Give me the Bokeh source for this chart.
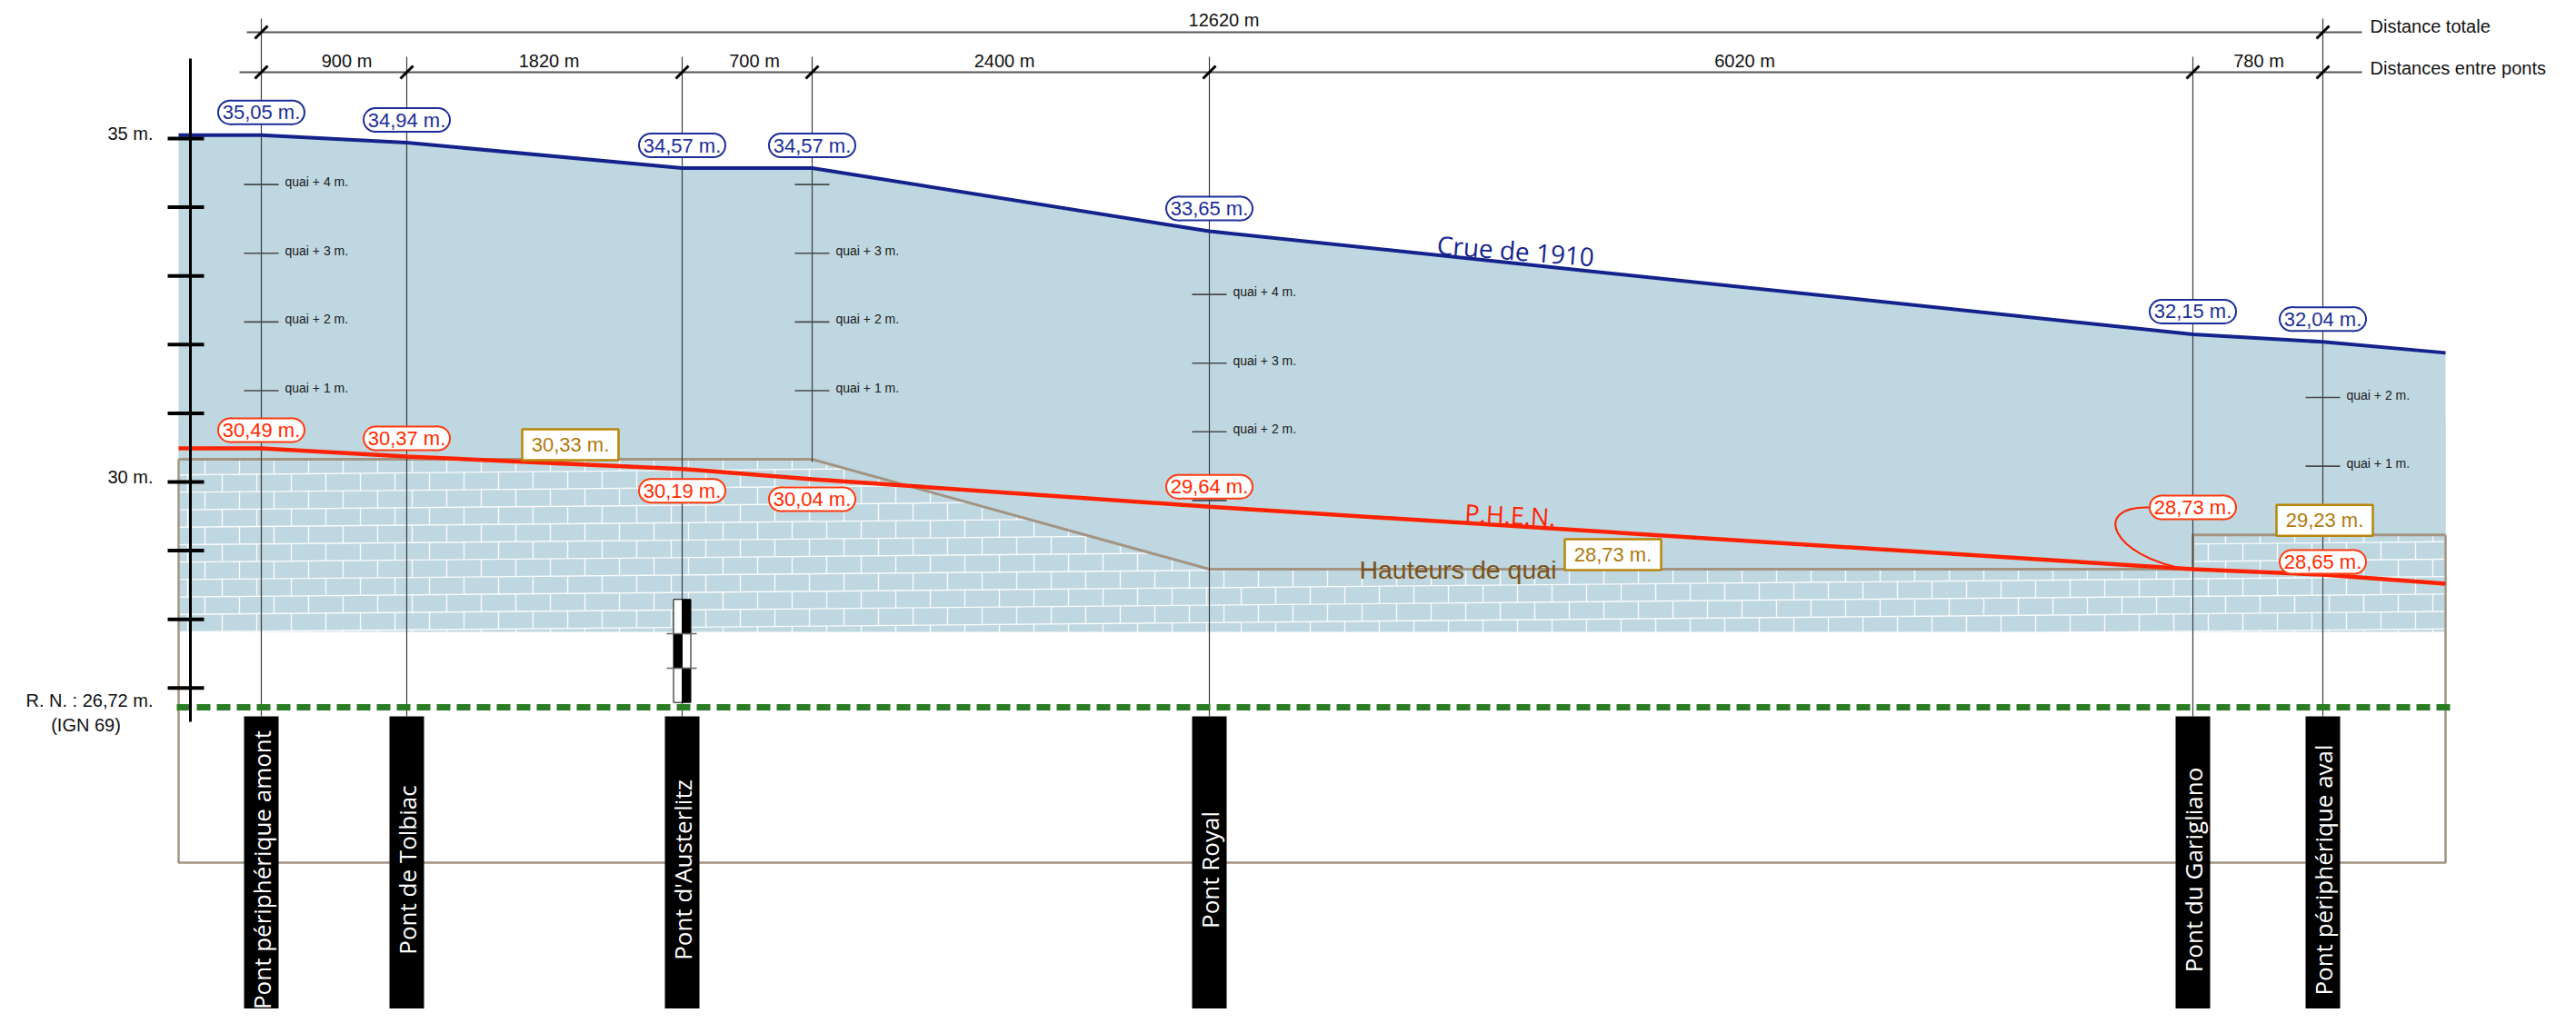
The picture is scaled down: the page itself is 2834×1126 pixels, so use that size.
from math import pi
from bokeh.plotting import figure
from bokeh.models import Range1d
from bokeh.core.properties import value
from bokeh.embed import file_html
from bokeh.resources import INLINE

# ------------------------------------------------------------------ data
bridge_names = ["Pont périphérique amont", "Pont de Tolbiac", "Pont d'Austerlitz", "",
                "Pont Royal", "Pont du Garigliano", "Pont périphérique aval"]
gaps_m = [900, 1820, 700, 2400, 6020, 780]
total_m = 12620
crue_1910 = [35.05, 34.94, 34.57, 34.57, 33.65, 32.15, 32.04]
crue_end = 31.88
phen = [30.49, 30.37, 30.19, 30.04, 29.64, 28.73, 28.65]
phen_end = 28.52
quai_at_point = [30.33, 30.33, 30.33, 30.33, 28.73, 28.73, 29.23]
quai_boxes = [30.33, 28.73, 29.23]
rn_level = 26.72
scale_ticks = [27, 28, 29, 30, 31, 32, 33, 34, 35]
scale_labels = [35, 30]
quai_marks_labelled = [[1, 2, 3, 4], [], [], [1, 2, 3], [2, 3, 4], [], [1, 2]]
quai_marks_plain = [[], [], [], [4], [1], [], []]

# ------------------------------------------------------------------ layout (schematic)
bx = [287, 447, 750, 893, 1330, 2412, 2555]
x_left, x_right = 196, 2690
gap_label_dx = [14, 5, 8, -7, 48, 1]
PX_PER_M = 75.6


def M(px):
    return 30.0 + (530 - px) / PX_PER_M


def PX(m):
    return 530 - (m - 30.0) * PX_PER_M


W, H = 2818, 1110
p = figure(width=W, height=H, output_backend="svg", toolbar_location=None,
           x_range=Range1d(0, W), y_range=Range1d(M(H), M(0)),
           x_axis_location=None, y_axis_location=None, min_border=0,
           background_fill_color="white", border_fill_color="white",
           outline_line_color=None)
for g in p.grid:
    g.visible = False

SANS = value("Liberation Sans")
OPEN = value("Open Sans")
WATER = "#BFD7E0"
NAVY = "#14238C"
RED = "#FF2200"
BEIGE = "#A39482"
GOLD = "#B8860B"
GOLD_T = "#B07A0C"
BROWN = "#7A521A"
GREEN = "#2B7D25"

wall_bottom_px = 695

# ------------------------------------------------------------------ water
wx = [x_left] + bx + [x_right, x_right, x_left]
wy = [crue_1910[0]] + crue_1910 + [crue_end, M(wall_bottom_px), M(wall_bottom_px)]
p.patch(wx, wy, fill_color=WATER, line_color=None)

# ------------------------------------------------------------------ bricks
slope = 0.009
bh, bw = 19.2, 38


def row_y(k, x):
    return wall_bottom_px - k * bh - slope * (x - x_left)


rx0, ry0, rx1, ry1 = [], [], [], []
for k in range(-2, 11):
    rx0.append(x_left); rx1.append(x_right)
    ry0.append(M(row_y(k, x_left))); ry1.append(M(row_y(k, x_right)))
jx, jy0, jy1 = [], [], []
for k in range(-2, 11):
    off = 0 if k % 2 == 0 else bw / 2
    x = x_left + 10 + off
    while x < x_right:
        jx.append(x); jy0.append(M(row_y(k, x))); jy1.append(M(row_y(k + 1, x)))
        x += bw
p.segment(rx0, ry0, rx1, ry1, line_color="white", line_width=1.4, line_alpha=0.9)
p.segment(jx, jy0, jx, jy1, line_color="white", line_width=1.4, line_alpha=0.9)
# clip below the wall
p.quad(left=x_left - 5, right=x_right + 5, top=M(wall_bottom_px + 0.5), bottom=M(772),
       fill_color="white", line_color=None)
# water above the quay profile hides the brick pattern
prof_x = [x_left, bx[3], bx[4], bx[5], bx[5], x_right]
prof_y = [quai_at_point[0], quai_at_point[3], quai_at_point[4], quai_at_point[5],
          quai_at_point[6], quai_at_point[6]]
p.patch(prof_x + [x_right, x_left], prof_y + [M(460), M(460)], fill_color=WATER, line_color=None)

# quay profile and frame
p.line(prof_x, prof_y, line_color=BEIGE, line_width=3)
p.line([x_left, x_left, x_right, x_right],
       [quai_at_point[0], M(949), M(949), quai_at_point[6]], line_color=BEIGE, line_width=2.5)

# ------------------------------------------------------------------ bridge verticals
vtop = [M(20) if i in (0, len(bx) - 1) else M(62) for i in range(len(bx))]
vbot = [M(788) if bridge_names[i] else phen[i] + 0.25 for i in range(len(bx))]
p.segment(bx, vtop, bx, vbot, line_color="#3C3C3C", line_width=1.2)

# quay marks
tx0, tx1, ty, lx, ly, lt = [], [], [], [], [], []
for i, x in enumerate(bx):
    for o in quai_marks_labelled[i] + quai_marks_plain[i]:
        tx0.append(x - 19); tx1.append(x + 19); ty.append(quai_at_point[i] + o)
    for o in quai_marks_labelled[i]:
        lx.append(x + 26); ly.append(quai_at_point[i] + o); lt.append(f"quai + {o} m.")
p.segment(tx0, ty, tx1, ty, line_color="#4A4A4A", line_width=1.6)
p.text(lx, ly, text=lt, text_font=SANS, text_font_size="14px", text_color="#1A1A1A",
       text_align="left", text_baseline="middle", y_offset=-3)

# ------------------------------------------------------------------ reference level
p.line([x_left - 2, x_right + 10], [rn_level, rn_level], line_color=GREEN, line_width=7,
       line_dash="15 7")

# gauge at Austerlitz
gx = bx[2]
g_base = rn_level + 0.07
for s in range(3):
    b = g_base + 0.5 * s
    t = b + 0.5
    left_black = (s == 1)
    p.quad(left=gx - 9.5, right=gx, top=t, bottom=b,
           fill_color="black" if left_black else "white", line_color="black", line_width=1)
    p.quad(left=gx, right=gx + 9.5, top=t, bottom=b,
           fill_color="white" if left_black else "black", line_color="black", line_width=1)
p.segment([gx - 17, gx - 17], [g_base + 0.5, g_base + 1.0], [gx + 16, gx + 16],
          [g_base + 0.5, g_base + 1.0], line_color="#666666", line_width=1.5)

# ------------------------------------------------------------------ lines
p.line([x_left] + bx + [x_right], [phen[0]] + phen + [phen_end], line_color=RED, line_width=4.5)
p.line([x_left] + bx + [x_right], [crue_1910[0]] + crue_1910 + [crue_end],
       line_color=NAVY, line_width=4)

# leader for the Garigliano PHEN label
phen_dy = [-20, -20, 24, 22, -22, -68, -14]
lab_y5 = PX(phen[5]) + phen_dy[5]
p.bezier(x0=[bx[5] - 48], y0=[M(lab_y5)], x1=[bx[5] - 7], y1=[phen[5]],
         cx0=[bx[5] - 112], cy0=[M(lab_y5 - 2)], cx1=[bx[5] - 90], cy1=[M(lab_y5 + 54)],
         line_color=RED, line_width=2)


def fmt(v):
    return f"{v:.2f}".replace(".", ",") + " m."


def pills(xs, ys, labels, border, tcolor, w=97, h=28, b=2):
    half = (w - h) / 2
    cx = [x - half for x in xs] + [x + half for x in xs]
    cy = ys + ys
    p.rect(xs, ys, width=w - h, height=h, width_units="screen", height_units="screen",
           fill_color=border, line_color=None)
    p.circle(cx, cy, radius=h / 2, radius_units="screen", fill_color=border, line_color=None)
    p.rect(xs, ys, width=w - h, height=h - 2 * b, width_units="screen", height_units="screen",
           fill_color="white", line_color=None)
    p.circle(cx, cy, radius=h / 2 - b, radius_units="screen", fill_color="white", line_color=None)
    p.text(xs, ys, text=labels, text_font=SANS, text_font_size="22px", text_color=tcolor,
           text_align="center", text_baseline="middle")


pills(bx, [M(PX(v) - 25) for v in crue_1910], [fmt(v) for v in crue_1910], "#1B2E98", "#1B2E98")
pills(bx, [M(PX(v) + d) for v, d in zip(phen, phen_dy)], [fmt(v) for v in phen], "#FF3A10", "#FF2A00")

# quay height boxes
qbx = [627, 1774, 2557]
qby = [M(PX(v) - 16) for v in quai_boxes]
p.rect(qbx, qby, width=106, height=34, width_units="screen", height_units="screen",
       fill_color="white", line_color=GOLD, line_width=2.5)
p.text(qbx, qby, text=[fmt(v) for v in quai_boxes], text_font=SANS, text_font_size="22px",
       text_color=GOLD_T, text_align="center", text_baseline="middle")

# ------------------------------------------------------------------ bridge name boxes
named = [i for i, n in enumerate(bridge_names) if n]
p.quad(left=[bx[i] - 19 for i in named], right=[bx[i] + 19 for i in named],
       top=M(788), bottom=M(1135), fill_color="black", line_color=None)
p.text([bx[i] for i in named], [M(957)] * len(named), text=[bridge_names[i] for i in named],
       angle=pi / 2, text_font=OPEN, text_font_size="26px", text_color="white",
       text_align="center", text_baseline="middle")

# ------------------------------------------------------------------ left scale
p.segment([209], [M(64)], [209], [M(794)], line_color="black", line_width=3)
p.segment([184] * len(scale_ticks), scale_ticks, [224] * len(scale_ticks), scale_ticks,
          line_color="black", line_width=4)
p.text([168] * len(scale_labels), scale_labels, text=[f"{v} m." for v in scale_labels],
       text_font=SANS, text_font_size="20px", text_color="#111111", text_align="right",
       text_baseline="middle", y_offset=-6)
p.text([168], [rn_level], text=["R. N. : " + fmt(rn_level)], text_font=SANS,
       text_font_size="20px", text_color="#111111", text_align="right",
       text_baseline="middle", y_offset=-7)
p.text([94], [rn_level], text=["(IGN 69)"], text_font=SANS, text_font_size="20px",
       text_color="#111111", text_align="center", text_baseline="middle", y_offset=20)

# ------------------------------------------------------------------ distances
y_tot, y_gap = M(35), M(79)
p.segment([271, 263], [y_tot, y_gap], [2598, 2598], [y_tot, y_gap], line_color="#555555",
          line_width=2)
sl = 7 / PX_PER_M
sx = [bx[0], bx[-1]] + bx
sy = [y_tot, y_tot] + [y_gap] * len(bx)
p.segment([x - 7 for x in sx], [y - sl for y in sy], [x + 7 for x in sx], [y + sl for y in sy],
          line_color="black", line_width=3)
mids = [(bx[i] + bx[i + 1]) / 2 + gap_label_dx[i] for i in range(len(gaps_m))]
p.text(mids, [M(66)] * len(mids), text=[f"{g} m" for g in gaps_m], text_font=SANS,
       text_font_size="20px", text_color="#111111", text_align="center", text_baseline="middle")
p.text([1346], [M(21)], text=[f"{total_m} m"], text_font=SANS, text_font_size="20px",
       text_color="#111111", text_align="center", text_baseline="middle")
p.text([2607, 2607], [M(28), M(74)], text=["Distance totale", "Distances entre ponts"],
       text_font=SANS, text_font_size="20px", text_color="#111111", text_align="left",
       text_baseline="middle")

# ------------------------------------------------------------------ captions
p.text([1667], [M(275)], text=["Crue de 1910"], angle=-0.078, text_font=OPEN,
       text_font_size="28px", text_color=NAVY, text_align="center", text_baseline="middle")
p.text([1661], [M(566)], text=["P.H.E.N."], angle=-0.05, text_font=OPEN,
       text_font_size="27px", text_color=RED, text_align="center", text_baseline="middle")
p.text([1712], [quai_boxes[1]], text=["Hauteurs de quai"], text_font=SANS,
       text_font_size="28.5px", text_color=BROWN, text_align="right", text_baseline="alphabetic")

open("out.html", "w").write(file_html(p, INLINE))
